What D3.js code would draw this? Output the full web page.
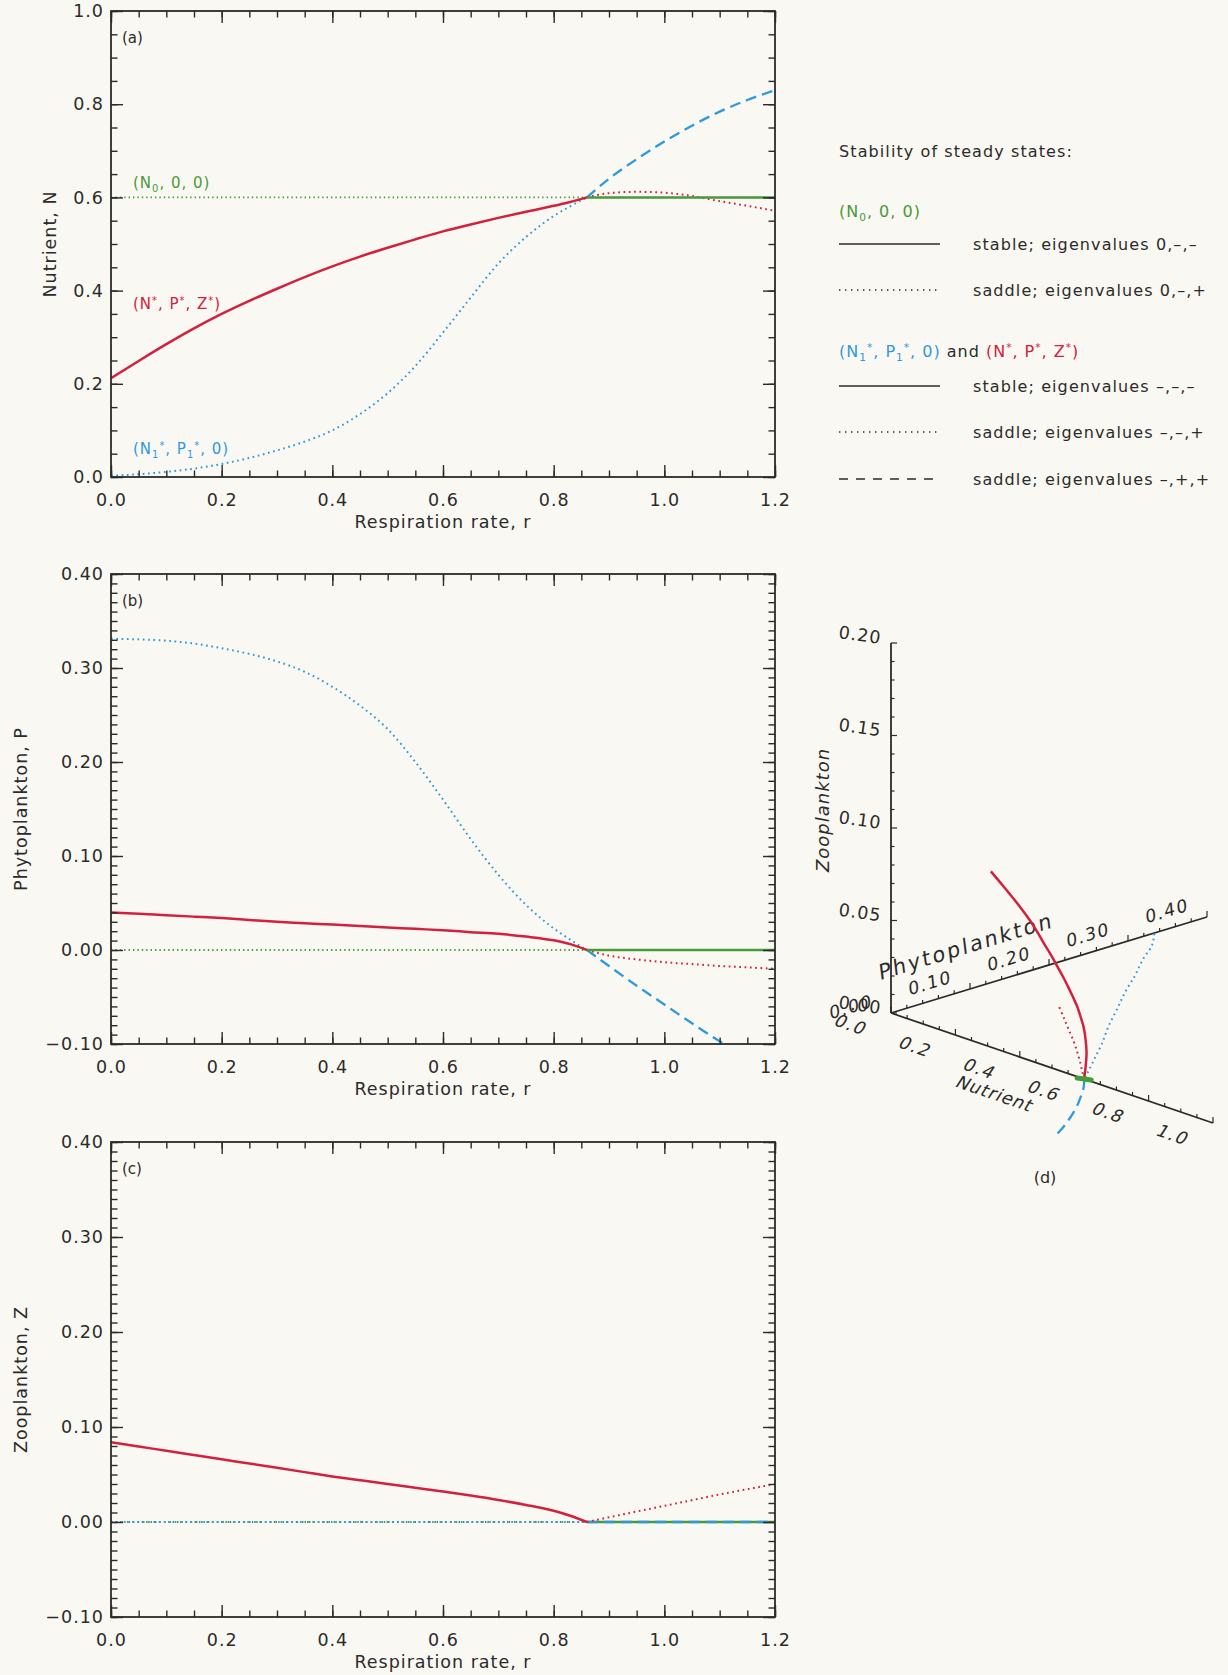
<!DOCTYPE html>
<html>
<head>
<meta charset="utf-8">
<script src="https://cdn.jsdelivr.net/npm/d3@7"></script>
<style>
  html, body { margin: 0; padding: 0; background: #faf8f2; }
  svg { display: block; }
  text { font-family: "DejaVu Sans", "Noto Sans", sans-serif; fill: #2b2b2b; }
</style>
</head>
<body>
<svg id="fig" width="1228" height="1675"></svg>
<script>
// ---------------------------------------------------------------
// Steady states of the NPZ model as functions of respiration rate r.
// The transcritical bifurcation sits at r = 0.86; each branch is split
// into the part below it (rLow) and the part above it (rHigh).
// ---------------------------------------------------------------
const rLow  = [0, 0.05, 0.1, 0.15, 0.2, 0.25, 0.3, 0.35, 0.4, 0.45, 0.5, 0.55, 0.6, 0.65, 0.7, 0.75, 0.8, 0.83, 0.86];
const rHigh = [0.86, 0.9, 0.95, 1.0, 1.05, 1.1, 1.15, 1.2];

// trivial state (N0, 0, 0)
const rGreenSaddle = [0, 0.86];
const rGreenStable = [0.86, 1.2];
const nGreen = [0.6, 0.6];
const pGreen = [0, 0];
const zGreen = [0, 0];

// interior state (N*, P*, Z*): stable below r = 0.86, saddle above
const nStarLow  = [0.212, 0.249, 0.285, 0.319, 0.350, 0.378, 0.404, 0.429, 0.452, 0.473, 0.492, 0.510, 0.527, 0.542, 0.556, 0.569, 0.582, 0.590, 0.600];
const pStarLow  = [0.040, 0.0385, 0.037, 0.0355, 0.034, 0.032, 0.030, 0.0285, 0.027, 0.0255, 0.024, 0.0225, 0.021, 0.019, 0.0172, 0.0143, 0.0103, 0.0062, 0.0];
const zStarLow  = [0.084, 0.0795, 0.075, 0.0705, 0.066, 0.0615, 0.057, 0.0525, 0.048, 0.044, 0.040, 0.036, 0.032, 0.0278, 0.0232, 0.018, 0.0118, 0.0066, 0.0];
const nStarHigh = [0.600, 0.609, 0.612, 0.610, 0.603, 0.592, 0.582, 0.571];
const pStarHigh = [0.0, -0.006, -0.010, -0.013, -0.015, -0.017, -0.0185, -0.020];
const zStarHigh = [0.0, 0.005, 0.011, 0.017, 0.023, 0.029, 0.0345, 0.040];

// zooplankton-free state (N1*, P1*, 0): saddle below r = 0.86, double saddle above
const nOneLow  = [0.003, 0.006, 0.011, 0.018, 0.028, 0.041, 0.057, 0.076, 0.100, 0.135, 0.180, 0.238, 0.310, 0.385, 0.458, 0.515, 0.560, 0.581, 0.600];
const pOneLow  = [0.331, 0.3305, 0.329, 0.326, 0.321, 0.315, 0.307, 0.296, 0.280, 0.260, 0.235, 0.200, 0.160, 0.118, 0.080, 0.048, 0.023, 0.011, 0.0];
const zOneLow  = [0, 0, 0, 0, 0, 0, 0, 0, 0, 0, 0, 0, 0, 0, 0, 0, 0, 0, 0];
const nOneHigh = [0.600, 0.640, 0.682, 0.720, 0.754, 0.784, 0.809, 0.830];
const pOneHigh = [0.0, -0.017, -0.038, -0.058, -0.078, -0.097, -0.114, -0.130];
const zOneHigh = [0, 0, 0, 0, 0, 0, 0, 0];

// axis ticks
const rTicks = [0, 0.2, 0.4, 0.6, 0.8, 1.0, 1.2];
const nTicks = [0, 0.2, 0.4, 0.6, 0.8, 1.0];
const pzTicks = [-0.1, 0, 0.1, 0.2, 0.3, 0.4];
const zTicks3d = [0, 0.05, 0.10, 0.15, 0.20];
const pTicks3d = [0, 0.1, 0.2, 0.3, 0.4];
const nTicks3d = [0, 0.2, 0.4, 0.6, 0.8, 1.0];

// ---------------------------------------------------------------
const GREEN = "#479a3a", RED = "#d3203c", BLUE = "#2e9ade", INK = "#2b2b2b";
const STYLE = {
  solid:  { w: 2.5, dash: null },
  dotted: { w: 2.0, dash: "1.7,3.6" },
  fine:   { w: 1.8, dash: "1.4,3.0" },
  dashed: { w: 2.3, dash: "11,6" }
};

const svg = d3.select("#fig");
svg.append("rect").attr("width", 1228).attr("height", 1675).attr("fill", "#faf8f2");

const X0 = 111, X1 = 775;
const x = d3.scaleLinear().domain([0, 1.2]).range([X0, X1]);

function steps(lo, hi, step) {
  const n = Math.round((hi - lo) / step);
  return d3.range(n + 1).map(i => +(lo + i * step).toFixed(4));
}

// text with sub/superscripts; parts = [[string, kind, colour?]] with kind n|sub|sup
function rich(g, px, py, parts, size, color) {
  const t = g.append("text").attr("x", px).attr("y", py)
    .style("font-size", size + "px").style("letter-spacing", "1px");
  if (color) t.style("fill", color);
  let shift = 0;
  parts.forEach(([s, kind, col]) => {
    const target = kind === "sub" ? size * 0.28 : kind === "sup" ? -size * 0.36 : 0;
    const ts = t.append("tspan").attr("dy", target - shift).text(s);
    if (kind !== "n") ts.style("font-size", (size * 0.66) + "px");
    if (col) ts.style("fill", col);
    shift = target;
  });
  return t;
}

const panels = [
  { top: 11, bottom: 477, domain: [0, 1], yTicks: nTicks, minor: 0.05, fmt: ".1f",
    title: "Nutrient, N", titleX: 50, tag: "(a)",
    series: [
      { r: rGreenSaddle, v: nGreen, c: GREEN, s: "fine" },
      { r: rLow, v: nOneLow, c: BLUE, s: "dotted" },
      { r: rHigh, v: nOneHigh, c: BLUE, s: "dashed" },
      { r: rHigh, v: nStarHigh, c: RED, s: "dotted" },
      { r: rGreenStable, v: nGreen, c: GREEN, s: "solid" },
      { r: rLow, v: nStarLow, c: RED, s: "solid" }
    ] },
  { top: 574, bottom: 1044, domain: [-0.1, 0.4], yTicks: pzTicks, minor: 0.01, fmt: ".2f",
    title: "Phytoplankton, P", titleX: 21, tag: "(b)",
    series: [
      { r: rGreenSaddle, v: pGreen, c: GREEN, s: "fine" },
      { r: rLow, v: pOneLow, c: BLUE, s: "dotted" },
      { r: rHigh, v: pOneHigh, c: BLUE, s: "dashed" },
      { r: rHigh, v: pStarHigh, c: RED, s: "dotted" },
      { r: rGreenStable, v: pGreen, c: GREEN, s: "solid" },
      { r: rLow, v: pStarLow, c: RED, s: "solid" }
    ] },
  { top: 1142, bottom: 1617, domain: [-0.1, 0.4], yTicks: pzTicks, minor: 0.01, fmt: ".2f",
    title: "Zooplankton, Z", titleX: 21, tag: "(c)",
    series: [
      { r: rGreenSaddle, v: zGreen, c: GREEN, s: "fine" },
      { r: rLow, v: zOneLow, c: BLUE, s: "dotted" },
      { r: rGreenStable, v: zGreen, c: GREEN, s: "solid" },
      { r: rHigh, v: zOneHigh, c: BLUE, s: "dashed" },
      { r: rHigh, v: zStarHigh, c: RED, s: "dotted" },
      { r: rLow, v: zStarLow, c: RED, s: "solid" }
    ] }
];

panels.forEach((p, k) => {
  const y = d3.scaleLinear().domain(p.domain).range([p.bottom, p.top]);
  const g = svg.append("g");
  const clipId = "clip" + k;
  svg.append("clipPath").attr("id", clipId).append("rect")
    .attr("x", X0).attr("y", p.top).attr("width", X1 - X0).attr("height", p.bottom - p.top);

  // data curves
  const line = d3.line().x(d => x(d[0])).y(d => y(d[1])).curve(d3.curveMonotoneX);
  const cg = g.append("g").attr("clip-path", `url(#${clipId})`);
  p.series.forEach(s => {
    const st = STYLE[s.s];
    cg.append("path").datum(s.r.map((r, i) => [r, s.v[i]]))
      .attr("d", line).attr("fill", "none").attr("stroke", s.c)
      .attr("stroke-width", st.w).attr("stroke-dasharray", st.dash)
      .attr("stroke-linejoin", "round");
  });

  // ticks on all four sides, pointing inward
  const minorX = steps(0, 1.2, 0.05);
  const minorY = steps(p.domain[0], p.domain[1], p.minor);
  const axes = [
    [d3.axisBottom(x).tickValues(minorX).tickSize(-6.5).tickFormat(""), `translate(0,${p.bottom})`],
    [d3.axisTop(x).tickValues(minorX).tickSize(-6.5).tickFormat(""), `translate(0,${p.top})`],
    [d3.axisTop(x).tickValues(rTicks).tickSize(-12).tickFormat(""), `translate(0,${p.top})`],
    [d3.axisBottom(x).tickValues(rTicks).tickSize(-12).tickPadding(17).tickFormat(d3.format(".1f")), `translate(0,${p.bottom})`],
    [d3.axisLeft(y).tickValues(minorY).tickSize(-6.5).tickFormat(""), `translate(${X0},0)`],
    [d3.axisRight(y).tickValues(minorY).tickSize(-6.5).tickFormat(""), `translate(${X1},0)`],
    [d3.axisRight(y).tickValues(p.yTicks).tickSize(-12).tickFormat(""), `translate(${X1},0)`],
    [d3.axisLeft(y).tickValues(p.yTicks).tickSize(-12).tickPadding(7).tickFormat(d3.format(p.fmt)), `translate(${X0},0)`]
  ];
  axes.forEach(([ax, tr]) => {
    const a = g.append("g").attr("transform", tr).call(ax);
    a.select(".domain").remove();
    a.selectAll("line").attr("stroke", INK).attr("stroke-width", 1.4);
    a.selectAll("text").style("font-size", "17.5px").style("letter-spacing", "1px")
      .style("font-family", "\"DejaVu Sans\", sans-serif").attr("fill", INK);
  });

  g.append("rect").attr("x", X0).attr("y", p.top).attr("width", X1 - X0).attr("height", p.bottom - p.top)
    .attr("fill", "none").attr("stroke", INK).attr("stroke-width", 1.8);

  g.append("text").attr("x", (X0 + X1) / 2).attr("y", p.bottom + 51).attr("text-anchor", "middle")
    .style("font-size", "17.5px").style("letter-spacing", "1px").text("Respiration rate, r");
  g.append("text").attr("transform", `translate(${p.titleX},${(p.top + p.bottom) / 2}) rotate(-90)`)
    .attr("text-anchor", "middle").attr("dominant-baseline", "central")
    .style("font-size", "17.5px").style("letter-spacing", "1px").text(p.title);
  g.append("text").attr("x", 122).attr("y", p.top + 32).style("font-size", "15px").text(p.tag);

  if (k === 0) {
    rich(g, 133, 188, [["(N", "n"], ["0", "sub"], [", 0, 0)", "n"]], 15, GREEN);
    rich(g, 133, 309, [["(N", "n"], ["*", "sup"], [", P", "n"], ["*", "sup"], [", Z", "n"], ["*", "sup"], [")", "n"]], 15, RED);
    rich(g, 133, 454, [["(N", "n"], ["1", "sub"], ["*", "sup"], [", P", "n"], ["1", "sub"], ["*", "sup"], [", 0)", "n"]], 15, BLUE);
  }
});

// ---------------------------------------------------------------
// Legend
// ---------------------------------------------------------------
const lg = svg.append("g");
const LX0 = 839, LX1 = 940, LT = 973;
function legText(yy, s) {
  lg.append("text").attr("x", LT).attr("y", yy + 6).style("font-size", "16px")
    .style("letter-spacing", "1.1px").text(s);
}
function legLine(yy, dash) {
  lg.append("line").attr("x1", LX0).attr("x2", LX1).attr("y1", yy).attr("y2", yy)
    .attr("stroke", INK).attr("stroke-width", 1.5).attr("stroke-dasharray", dash);
}
lg.append("text").attr("x", LX0).attr("y", 157).style("font-size", "16px")
  .style("letter-spacing", "1.1px").text("Stability of steady states:");
rich(lg, LX0, 217, [["(N", "n"], ["0", "sub"], [", 0, 0)", "n"]], 16, GREEN);
legLine(244, null);            legText(244, "stable; eigenvalues 0,–,–");
legLine(290, "1.4,4.6");       legText(290, "saddle; eigenvalues 0,–,+");
rich(lg, LX0, 357, [["(N", "n"], ["1", "sub"], ["*", "sup"], [", P", "n"], ["1", "sub"], ["*", "sup"], [", 0)", "n"],
  [" and ", "n", INK], ["(N", "n", RED], ["*", "sup", RED], [", P", "n", RED], ["*", "sup", RED], [", Z", "n", RED], ["*", "sup", RED], [")", "n", RED]], 16, BLUE);
legLine(386, null);            legText(386, "stable; eigenvalues –,–,–");
legLine(432, "1.4,4.6");       legText(432, "saddle; eigenvalues –,–,+");
legLine(479, "9,8");           legText(479, "saddle; eigenvalues –,+,+");

// ---------------------------------------------------------------
// (d) Oblique 3-D view of the same branches in (N, P, Z) space
// ---------------------------------------------------------------
const O = [891, 1013];
const nX = d3.scaleLinear().domain([0, 1]).range([0, 322]);
const nY = d3.scaleLinear().domain([0, 1]).range([0, 110]);
const pX = d3.scaleLinear().domain([0, 0.4]).range([0, 316]);
const pY = d3.scaleLinear().domain([0, 0.4]).range([0, -96]);
const zY = d3.scaleLinear().domain([0, 0.2]).range([0, -370]);
const proj = (n, p, z) => [O[0] + nX(n) + pX(p), O[1] + nY(n) + pY(p) + zY(z)];

const g3 = svg.append("g");
function seg(a, b, w) {
  g3.append("line").attr("x1", a[0]).attr("y1", a[1]).attr("x2", b[0]).attr("y2", b[1])
    .attr("stroke", INK).attr("stroke-width", w);
}
seg(proj(0, 0, 0), proj(0, 0, 0.2), 1.8);
seg(proj(0, 0, 0), proj(0, 0.4, 0), 1.8);
seg(proj(0, 0, 0), proj(1, 0, 0), 1.8);

steps(0, 0.2, 0.01).forEach((z, i) => {
  const a = proj(0, 0, z), len = i % 5 === 0 ? 6 : 3.5;
  seg(a, [a[0] + len, a[1]], 1.2);
});
steps(0, 0.4, 0.02).forEach((p, i) => {
  const a = proj(0, p, 0), len = i % 5 === 0 ? 6 : 3.5;
  seg(a, [a[0], a[1] - len], 1.2);
});
steps(0, 1, 0.05).forEach((n, i) => {
  const a = proj(n, 0, 0), len = i % 4 === 0 ? 6 : 3.5;
  seg(a, [a[0], a[1] - len], 1.2);
});

zTicks3d.forEach(z => {
  const a = proj(0, 0, z);
  g3.append("text").attr("transform", `translate(${a[0] - 31},${a[1] - 8}) rotate(8)`)
    .attr("text-anchor", "middle").attr("dominant-baseline", "central")
    .style("font-size", "17.5px").style("letter-spacing", "1px").text(d3.format(".2f")(z));
});
pTicks3d.forEach(p => {
  const a = proj(0, p, 0);
  g3.append("text").attr("transform", `translate(${a[0] - 40},${a[1] - 6}) rotate(-17) skewX(-12)`)
    .attr("text-anchor", "middle").attr("dominant-baseline", "central")
    .style("font-size", "17.5px").style("letter-spacing", "1.5px").text(d3.format(".2f")(p));
});
nTicks3d.forEach(n => {
  const a = proj(n, 0, 0);
  g3.append("text").attr("transform", `translate(${a[0] - 40},${a[1] + 12}) rotate(19) skewX(-14)`)
    .attr("text-anchor", "middle").attr("dominant-baseline", "central")
    .style("font-size", "17.5px").style("letter-spacing", "1.5px").text(d3.format(".1f")(n));
});
g3.append("text").attr("transform", "translate(822,810) rotate(-90)")
  .attr("text-anchor", "middle").attr("dominant-baseline", "central")
  .style("font-size", "18px").style("font-style", "italic").style("letter-spacing", "1px").text("Zooplankton");
g3.append("text").attr("transform", "translate(966,946) rotate(-17) skewX(-10)")
  .attr("text-anchor", "middle").attr("dominant-baseline", "central")
  .style("font-size", "21px").style("letter-spacing", "2.4px").text("Phytoplankton");
g3.append("text").attr("transform", "translate(995,1094) rotate(19) skewX(-14)")
  .attr("text-anchor", "middle").attr("dominant-baseline", "central")
  .style("font-size", "17.5px").style("letter-spacing", "1px").text("Nutrient");
g3.append("text").attr("x", 1045).attr("y", 1183).attr("text-anchor", "middle")
  .style("font-size", "16px").text("(d)");

const line3 = d3.line().curve(d3.curveCatmullRom.alpha(0.5));
const branches3d = [
  { n: nOneLow, p: pOneLow, z: zOneLow, c: BLUE, s: "dotted" },
  { n: nOneHigh, p: pOneHigh, z: zOneHigh, c: BLUE, s: "dashed" },
  { n: nStarHigh, p: pStarHigh, z: zStarHigh, c: RED, s: "dotted" },
  { n: nStarLow, p: pStarLow, z: zStarLow, c: RED, s: "solid" }
];
branches3d.forEach(b => {
  const st = STYLE[b.s];
  g3.append("path").datum(b.n.map((v, i) => proj(v, b.p[i], b.z[i])))
    .attr("d", line3).attr("fill", "none").attr("stroke", b.c)
    .attr("stroke-width", st.w).attr("stroke-dasharray", st.dash);
});
// the trivial state collapses to a single point in phase space
const gp = proj(nGreen[0], pGreen[0], zGreen[0]);
g3.append("line").attr("x1", gp[0] - 7).attr("y1", gp[1] - 1).attr("x2", gp[0] + 7).attr("y2", gp[1] + 1)
  .attr("stroke", GREEN).attr("stroke-width", 5).attr("stroke-linecap", "round");
</script>
</body>
</html>
